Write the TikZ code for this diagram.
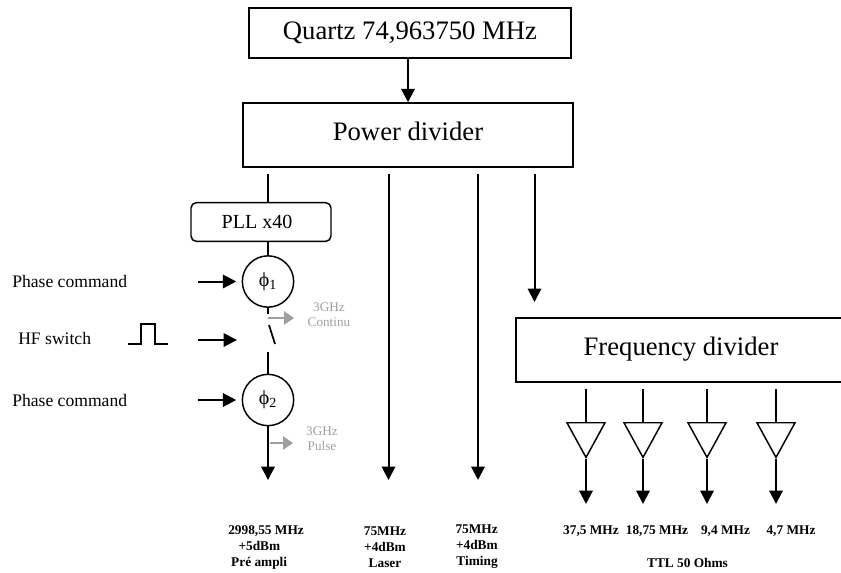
\documentclass[tikz,border=0pt]{standalone}
\usepackage{fontspec}
\setmainfont{Liberation Serif}
\usepackage{tikz}
\usetikzlibrary{arrows.meta, shapes.geometric}

\tikzset{
    bloc/.style={draw, line width=1.1pt, inner sep=0pt},
    grostexte/.style={font=\fontsize{20}{20}\selectfont},
    dephaseur/.style={draw, circle, line width=1.1pt, minimum size=38.5pt, inner sep=0pt, font=\fontsize{15}{15}\selectfont},
    ampli/.style={draw, line width=1.1pt, isosceles triangle, isosceles triangle stretches, shape border rotate=-90, minimum width=28.5pt, minimum height=26pt, inner sep=0pt},
    fleche/.style={-{Triangle[length=10pt,width=10pt]}, line width=1.5pt},
    flechegris/.style={-{Triangle[length=7.5pt,width=10pt]}, line width=1.5pt, gray!75},
    trait/.style={line width=1.1pt},
    legende/.style={font=\fontsize{13.2}{13}\selectfont, anchor=west, inner sep=0pt},
    sortie/.style={font=\bfseries\fontsize{10}{12}\selectfont, inner sep=0pt},
    grisee/.style={font=\fontsize{9.9}{11.2}\selectfont, text=gray!75, align=center, inner sep=0pt}
}

\begin{document}
\begin{tikzpicture}[x=0.75pt, y=-0.75pt]
    \useasboundingbox (0,0) rectangle (841,572);

    % Blocs
    \node[bloc, grostexte, minimum width=241.5pt, minimum height=37.5pt] (quartz) at (410,33)
        {Quartz 74,963750 MHz};
    \node[bloc, grostexte, minimum width=247.5pt, minimum height=48pt] (power) at (408,135)
        {\raisebox{5pt}{Power divider}};
    \node[bloc, rounded corners=4pt, minimum width=105pt, minimum height=29pt] (pll) at (261,222)
        {\fontsize{15}{15}\selectfont\hspace*{-6pt}PLL x40};
    \node[bloc, grostexte, minimum width=247.5pt, minimum height=48pt] (freq) at (681,350)
        {\raisebox{5pt}{Frequency divider}};

    % Dephaseurs
    \node[dephaseur] (phi1) at (268,281.5) {ϕ\textsubscript{1}};
    \node[dephaseur] (phi2) at (268,400) {ϕ\textsubscript{2}};

    % Ligne de gauche
    \coordinate (pllin) at (268,174);
    \coordinate (swhaut) at (268,314);
    \coordinate (swa) at (269,325);
    \coordinate (swb) at (275,344);
    \coordinate (swbas) at (268,352);
    \coordinate (preout) at (268,480);
    \draw[line width=0.8pt] (pllin) -- (pll.north -| pllin);
    \draw[line width=0.8pt] (pll.south -| phi1) -- (phi1);
    \draw[trait] (phi1) -- (swhaut);
    \draw[line width=1.3pt] (swa) -- (swb);
    \draw[line width=1.5pt] (swbas) -- (phi2);
    \draw[fleche] (phi2) -- (preout);

    % Sorties du power divider
    \coordinate (laserin) at (388.5,174);
    \coordinate (laserout) at (388.5,480);
    \coordinate (timingin) at (478,174);
    \coordinate (timingout) at (478,480);
    \coordinate (freqin) at (534.5,174);
    \coordinate (freqout) at (534.5,302);
    \draw[fleche] (laserin) -- (laserout);
    \draw[fleche] (timingin) -- (timingout);
    \draw[fleche] (freqin) -- (freqout);

    \draw[fleche] (quartz.south -| power) -- (power);

    % Commandes
    \node[legende] (cmd1) at (12,281) {Phase command};
    \node[legende] (hf) at (18,338) {HF switch};
    \node[legende] (cmd2) at (12,400) {Phase command};
    \coordinate (cmd1a) at (198,281.5);
    \coordinate (hfa) at (198,340);
    \coordinate (swc) at (237,340);
    \coordinate (cmd2a) at (198,400);
    \draw[fleche, shorten >=4pt] (cmd1a) -- (phi1);
    \draw[fleche] (hfa) -- (swc);
    \draw[fleche, shorten >=4pt] (cmd2a) -- (phi2);

    % Impulsion
    \draw[line width=1pt] (128,344) -- (141,344) -- (141,324) -- (155,324) -- (155,344) -- (168,344);

    % Sorties 3 GHz
    \coordinate (contA) at (268,318);
    \coordinate (contB) at (294,318);
    \coordinate (pulsA) at (270,443);
    \coordinate (pulsB) at (293,443);
    \draw[flechegris] (contA) -- (contB);
    \draw[flechegris] (pulsA) -- (pulsB);
    \node[grisee] (contlbl) at (329,314.5) {3GHz\\Continu};
    \node[grisee] (pulslbl) at (322,439) {3GHz\\Pulse};

    % Amplis TTL
    \foreach \nom/\xp in {a/586, b/643, c/707, d/776}{
        \node[ampli] (amp\nom) at (\xp,434) {};
        \coordinate (stem\nom) at (\xp,389);
        \coordinate (out\nom) at (\xp,504);
        \draw[trait] (stem\nom) -- (amp\nom.north);
        \draw[fleche] (amp\nom.apex) -- (out\nom);
    }

    % Etiquettes
    \node[sortie, align=left, anchor=west] (prelbl) at (228,547)
        {2998,55 MHz\\\hspace*{7.7pt}+5dBm\\\hspace*{2.2pt}Pré ampli};
    \node[sortie, align=center] (laserlbl) at (385,547) {75MHz\\+4dBm\\Laser};
    \node[sortie, align=right, anchor=east] (timinglbl) at (498,547) {75MHz\\+4dBm\\Timing};
    \node[sortie] (f1) at (591,531) {37,5 MHz};
    \node[sortie] (f2) at (657,531) {18,75 MHz};
    \node[sortie] (f3) at (725.5,531) {9,4 MHz};
    \node[sortie] (f4) at (791,531) {4,7 MHz};
    \node[sortie] (ttl) at (687.5,563) {TTL 50 Ohms};
\end{tikzpicture}
\end{document}
